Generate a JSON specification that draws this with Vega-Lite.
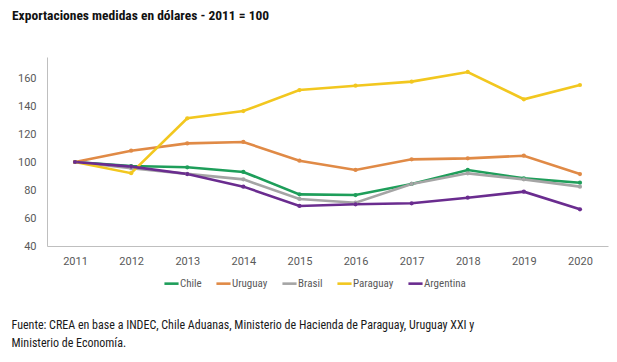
{
  "$schema": "https://vega.github.io/schema/vega-lite/v6.json",
  "width": 561,
  "height": 189,
  "autosize": "none",
  "padding": {"left": 47, "top": 57, "right": 9, "bottom": 116},
  "background": "white",
  "title": {
    "text": "Exportaciones medidas en dólares - 2011 = 100",
    "anchor": "start",
    "frame": "group",
    "dx": -35,
    "offset": 35,
    "font": "Roboto Condensed, DejaVu Sans Condensed, Liberation Sans Narrow, Roboto",
    "fontSize": 13.5,
    "fontWeight": "bold",
    "color": "#111111"
  },
  "data": {
    "values": [
      {"year": "2011", "pais": "Chile", "v": 100},
      {"year": "2012", "pais": "Chile", "v": 97.1},
      {"year": "2013", "pais": "Chile", "v": 96.2},
      {"year": "2014", "pais": "Chile", "v": 92.9},
      {"year": "2015", "pais": "Chile", "v": 76.9},
      {"year": "2016", "pais": "Chile", "v": 76.4},
      {"year": "2017", "pais": "Chile", "v": 84.3},
      {"year": "2018", "pais": "Chile", "v": 94.3},
      {"year": "2019", "pais": "Chile", "v": 88.3},
      {"year": "2020", "pais": "Chile", "v": 85.2},
      {"year": "2011", "pais": "Uruguay", "v": 100},
      {"year": "2012", "pais": "Uruguay", "v": 108.1},
      {"year": "2013", "pais": "Uruguay", "v": 113.3},
      {"year": "2014", "pais": "Uruguay", "v": 114.3},
      {"year": "2015", "pais": "Uruguay", "v": 100.9},
      {"year": "2016", "pais": "Uruguay", "v": 94.3},
      {"year": "2017", "pais": "Uruguay", "v": 101.9},
      {"year": "2018", "pais": "Uruguay", "v": 102.6},
      {"year": "2019", "pais": "Uruguay", "v": 104.5},
      {"year": "2020", "pais": "Uruguay", "v": 91.4},
      {"year": "2011", "pais": "Brasil", "v": 100},
      {"year": "2012", "pais": "Brasil", "v": 95.5},
      {"year": "2013", "pais": "Brasil", "v": 91.5},
      {"year": "2014", "pais": "Brasil", "v": 87.6},
      {"year": "2015", "pais": "Brasil", "v": 73.6},
      {"year": "2016", "pais": "Brasil", "v": 70.9},
      {"year": "2017", "pais": "Brasil", "v": 84.3},
      {"year": "2018", "pais": "Brasil", "v": 91.9},
      {"year": "2019", "pais": "Brasil", "v": 87.6},
      {"year": "2020", "pais": "Brasil", "v": 82.4},
      {"year": "2011", "pais": "Paraguay", "v": 100},
      {"year": "2012", "pais": "Paraguay", "v": 92},
      {"year": "2013", "pais": "Paraguay", "v": 131.2},
      {"year": "2014", "pais": "Paraguay", "v": 136.4},
      {"year": "2015", "pais": "Paraguay", "v": 151.4},
      {"year": "2016", "pais": "Paraguay", "v": 154.5},
      {"year": "2017", "pais": "Paraguay", "v": 157.4},
      {"year": "2018", "pais": "Paraguay", "v": 164.3},
      {"year": "2019", "pais": "Paraguay", "v": 144.8},
      {"year": "2020", "pais": "Paraguay", "v": 155},
      {"year": "2011", "pais": "Argentina", "v": 100},
      {"year": "2012", "pais": "Argentina", "v": 96.7},
      {"year": "2013", "pais": "Argentina", "v": 91.4},
      {"year": "2014", "pais": "Argentina", "v": 82.4},
      {"year": "2015", "pais": "Argentina", "v": 68.6},
      {"year": "2016", "pais": "Argentina", "v": 69.8},
      {"year": "2017", "pais": "Argentina", "v": 70.5},
      {"year": "2018", "pais": "Argentina", "v": 74.5},
      {"year": "2019", "pais": "Argentina", "v": 78.8},
      {"year": "2020", "pais": "Argentina", "v": 66.2}
    ]
  },
  "mark": {"type": "line", "strokeWidth": 2.6, "point": {"size": 18, "filled": true}},
  "encoding": {
    "x": {
      "field": "year",
      "type": "ordinal",
      "axis": {
        "labelAngle": 0,
        "labelFont": "Roboto",
        "labelFontSize": 11,
        "labelColor": "#595959",
        "labelPadding": 9,
        "domainColor": "#bfbfbf",
        "domainWidth": 1.2,
        "ticks": false,
        "grid": false,
        "title": ["Fuente: CREA en base a INDEC, Chile Aduanas, Ministerio de Hacienda de Paraguay, Uruguay XXI y", "Ministerio de Economía."],
        "titleFont": "Roboto Condensed, DejaVu Sans Condensed, Liberation Sans Narrow, Roboto",
        "titleFontSize": 12,
        "titleFontWeight": "normal",
        "titleColor": "#1a1a1a",
        "titleAnchor": "start",
        "titleAlign": "left",
        "titleBaseline": "top",
        "titleX": -36,
        "titleY": 73,
        "titleLineHeight": 18
      }
    },
    "y": {
      "field": "v",
      "type": "quantitative",
      "scale": {"domain": [40, 175], "nice": false},
      "axis": {
        "values": [40, 60, 80, 100, 120, 140, 160],
        "labelFont": "Roboto",
        "labelFontSize": 11,
        "labelColor": "#595959",
        "labelPadding": 11,
        "domainColor": "#bfbfbf",
        "ticks": false,
        "grid": false,
        "title": null
      }
    },
    "color": {
      "field": "pais",
      "type": "nominal",
      "sort": ["Chile", "Uruguay", "Brasil", "Paraguay", "Argentina"],
      "scale": {
        "domain": ["Chile", "Uruguay", "Brasil", "Paraguay", "Argentina"],
        "range": ["#1e9e5a", "#e08a46", "#a5a5a5", "#f2c71f", "#6a2c8f"]
      },
      "legend": {
        "orient": "none",
        "legendX": 116,
        "legendY": 218,
        "direction": "horizontal",
        "title": null,
        "symbolType": "stroke",
        "symbolStrokeWidth": 2.6,
        "symbolSize": 200,
        "labelFont": "Roboto Condensed, DejaVu Sans Condensed, Roboto",
        "labelFontSize": 11,
        "labelColor": "#595959",
        "labelOffset": 0,
        "columnPadding": 9
      }
    }
  },
  "config": {"view": {"stroke": null}}
}
